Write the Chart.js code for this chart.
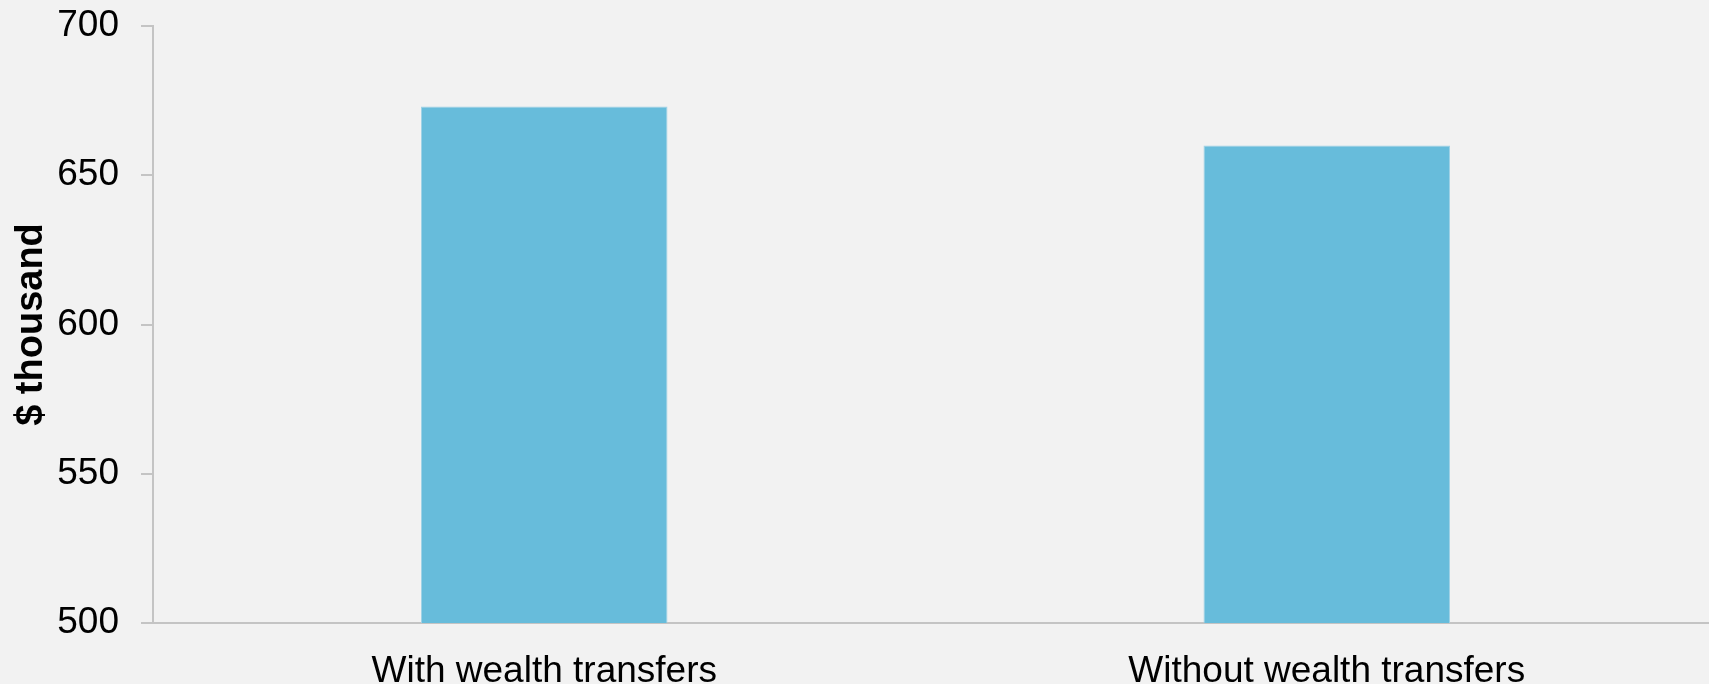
<!DOCTYPE html>
<html>
<head>
  <title>Wealth transfers</title>
  <script src="https://cdn.jsdelivr.net/npm/chart.js"></script>
  <style>
    body { margin: 0; background: #F2F2F2; overflow: hidden; }
    #wrap { width: 1718px; height: 684px; position: relative; }
  </style>
</head>
<body>
  <div id="wrap"><canvas id="wealth-chart"></canvas></div>
  <script>
    var categories = ['With wealth transfers', 'Without wealth transfers'];
    var values = [673, 660];
    var yTicks = [500, 550, 600, 650, 700];

    var axisColor = '#C4C4C4';
    Chart.defaults.font.family = '"Liberation Sans", Arial, sans-serif';
    Chart.defaults.color = '#000000';

    var ctx = document.getElementById('wealth-chart').getContext('2d');
    var chart = new Chart(ctx, {
      type: 'bar',
      data: {
        labels: categories,
        datasets: [{
          label: '$ thousand',
          data: values,
          backgroundColor: '#67BCDB',
          borderColor: '#9FD2E6',
          borderWidth: 1,
          categoryPercentage: 1,
          barPercentage: 0.315
        }]
      },
      options: {
        responsive: true,
        maintainAspectRatio: false,
        animation: false,
        layout: { padding: { top: 26, right: 0, bottom: 0, left: 0 } },
        plugins: {
          legend: { display: false },
          tooltip: { enabled: false }
        },
        scales: {
          x: {
            grid: { display: false },
            border: { display: true, color: axisColor, width: 2 },
            ticks: { font: { size: 37 }, padding: 19, maxRotation: 0 },
            afterFit: function(scale) {
              scale.height = 61;
              scale.paddingLeft = 0;
              scale.paddingRight = 0;
            }
          },
          y: {
            min: yTicks[0],
            max: yTicks[yTicks.length - 1],
            afterBuildTicks: function(scale) {
              scale.ticks = yTicks.map(function(v) { return { value: v }; });
            },
            grid: { drawOnChartArea: false, tickLength: 12, color: axisColor, lineWidth: 2 },
            border: { display: true, color: axisColor, width: 2 },
            ticks: { font: { size: 37 }, padding: 22 },
            title: {
              display: true,
              text: '$ thousand',
              font: { size: 38, weight: 'bold' },
              padding: { top: 9, bottom: 0 }
            },
            afterFit: function(scale) {
              scale.width = 153;
              scale.paddingTop = 0;
              scale.paddingBottom = 0;
            }
          }
        }
      }
    });
  </script>
</body>
</html>
